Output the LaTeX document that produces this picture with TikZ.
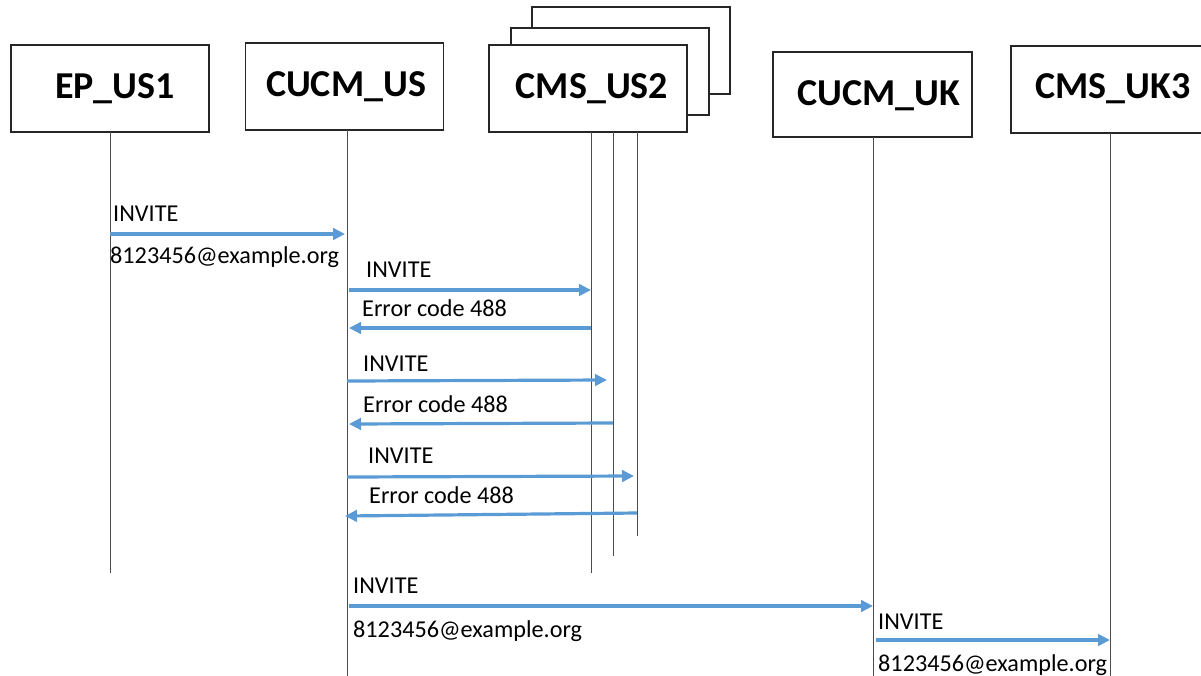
\documentclass[tikz,border=0pt]{standalone}
\usepackage{fontspec}
\setmainfont{Carlito}
\usetikzlibrary{arrows.meta}
\definecolor{msgblue}{RGB}{91,155,213}
\begin{document}
\begin{tikzpicture}[x=1pt,y=-1pt,
 actor/.style={draw=black!85, line width=1.2pt, fill=white, minimum width=198pt, minimum height=87pt, inner sep=0pt},
 aname/.style={font=\bfseries\fontsize{38}{40}\selectfont, inner sep=0pt},
 life/.style={draw=black!70, line width=1pt},
 msg/.style={draw=msgblue, line width=3.2pt, -{Triangle[length=12pt,width=11.5pt]}},
 lbl/.style={anchor=base west, inner sep=0pt, font=\fontsize{24.2}{26}\selectfont}]
\useasboundingbox (0,0) rectangle (1201,675);
\begin{scope}
\clip (0,0) rectangle (1201,675);
% actors
\node[actor] (ep) at (110,88.5) {};
\node[aname] (epN) at (115,89) {EP\_US1};
\node[actor] (cmsb) at (631,50.5) {};
\node[actor] (cmsm) at (610,71.5) {};
\node[actor] (cms) at (588,88.5) {};
\node[aname] (cmsN) at (592,89) {CMS\_US2};
\node[actor] (cucmus) at (344.5,86.5) {};
\node[aname] (cucmusN) at (346,87) {CUCM\_US};
\node[actor, minimum height=85pt, minimum width=199pt] (cucmuk) at (872.5,94.5) {};
\node[aname] (cucmukN) at (879,96) {CUCM\_UK};
\node[actor] (cmsuk) at (1110,89.5) {};
\node[aname] (cmsukN) at (1113,89) {CMS\_UK3};
% lifeline ends
\coordinate (epT) at (110,132);  \coordinate (epB) at (110,573);
\coordinate (usT) at (347,130);  \coordinate (usB) at (347,676);
\coordinate (c1T) at (591,132);  \coordinate (c1B) at (591,573);
\coordinate (c2T) at (613,132);  \coordinate (c2B) at (613,556);
\coordinate (c3T) at (637,132);  \coordinate (c3B) at (637,536);
\coordinate (ukT) at (873,137);  \coordinate (ukB) at (873,676);
\coordinate (k3T) at (1110,133); \coordinate (k3B) at (1110,676);
\draw[life] (epT) -- (epB);
\draw[life] (usT) -- (usB);
\draw[life] (c1T) -- (c1B);
\draw[life] (c2T) -- (c2B);
\draw[life] (c3T) -- (c3B);
\draw[life] (ukT) -- (ukB);
\draw[life] (k3T) -- (k3B);
% message endpoints
\coordinate (m1a) at (110,234); \coordinate (m1b) at (345,234);
\coordinate (m2a) at (349,290); \coordinate (m2b) at (591,290);
\coordinate (m3a) at (591,328); \coordinate (m3b) at (349,328);
\coordinate (m4a) at (347,381); \coordinate (m4b) at (607,380);
\coordinate (m5a) at (613,423); \coordinate (m5b) at (349,424);
\coordinate (m6a) at (347,477); \coordinate (m6b) at (634,476);
\coordinate (m7a) at (637,513); \coordinate (m7b) at (345,516);
\coordinate (m8a) at (349,606); \coordinate (m8b) at (873,606);
\coordinate (m9a) at (876,640); \coordinate (m9b) at (1110,640);
\draw[msg] (m1a) -- (m1b);
\draw[msg] (m2a) -- (m2b);
\draw[msg] (m3a) -- (m3b);
\draw[msg] (m4a) -- (m4b);
\draw[msg] (m5a) -- (m5b);
\draw[msg] (m6a) -- (m6b);
\draw[msg] (m7a) -- (m7b);
\draw[msg] (m8a) -- (m8b);
\draw[msg] (m9a) -- (m9b);
% labels
\node[lbl] (l1) at (113,221) {INVITE};
\node[lbl] (l1b) at (110,263) {8123456@example.org};
\node[lbl] (l2) at (366,277) {INVITE};
\node[lbl] (l3) at (362,316) {Error code 488};
\node[lbl] (l4) at (363,371) {INVITE};
\node[lbl] (l5) at (363,412) {Error code 488};
\node[lbl] (l6) at (368,463) {INVITE};
\node[lbl] (l7) at (369,503) {Error code 488};
\node[lbl] (l8) at (353,593) {INVITE};
\node[lbl] (l8b) at (353,637) {8123456@example.org};
\node[lbl] (l9) at (878,629) {INVITE};
\node[lbl] (l9b) at (878,671) {8123456@example.org};
\end{scope}
\end{tikzpicture}
\end{document}
